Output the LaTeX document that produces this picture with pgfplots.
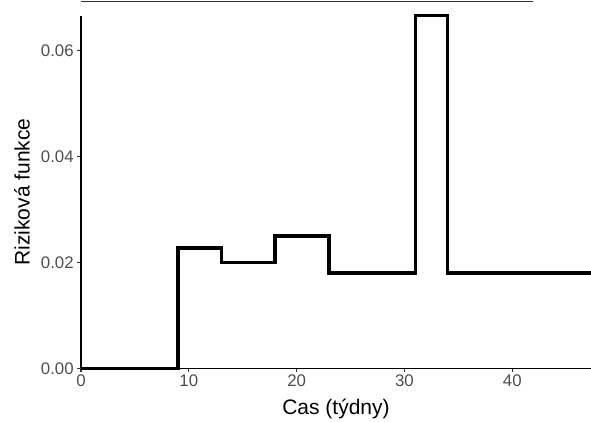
\documentclass[border=0pt]{standalone}
\usepackage{fontspec}
\setmainfont{Liberation Sans}
\usepackage{pgfplots}
\pgfplotsset{compat=1.18}
\definecolor{gray30}{HTML}{4D4D4D}
\definecolor{gray20}{HTML}{333333}

\begin{document}
\begin{tikzpicture}[x=1pt,y=1pt]
% fixed canvas around the panel
\path[use as bounding box] (-81,-52.7) rectangle (510,368.3);
% rule above the panel
\draw[gray20, line width=0.8pt] (0,366.8) -- (452,366.8);
\begin{axis}[
  at={(0pt,0pt)}, anchor=south west,
  scale only axis, width=510pt, height=352.6pt,
  xmin=0, xmax=47.3, ymin=0, ymax=0.0666,
  axis x line=bottom, axis y line=left,
  axis line style={-, black, line width=1.1pt},
  xtick={0,10,20,30,40}, xticklabels={0,10,20,30,40},
  ytick={0,0.02,0.04,0.06}, yticklabels={0.00,0.02,0.04,0.06},
  scaled y ticks=false, scaled x ticks=false,
  /pgf/number format/assume math mode=true,
  tick align=outside, major tick length=3.8pt,
  tick style={gray20, line width=1.1pt},
  ticklabel style={font=\fontsize{16.8}{19}\selectfont, text=gray30},
  xticklabel style={yshift=1pt},
  every axis x label/.style={at={(axis description cs:0.5,-0.116)}, anchor=center},
  every axis y label/.style={at={(axis description cs:-0.1157,0.5)}, rotate=90, anchor=center},
  label style={font=\fontsize{21}{24}\selectfont, text=black},
  xlabel={Cas (týdny)}, ylabel={Riziková funkce},
  clip=false,
]
\addplot[const plot, black, line width=3.2pt] coordinates {
  (0,0) (9,0.02273) (13,0.0200) (18,0.0250) (23,0.0180)
  (31,0.0667) (34,0.0180) (47.3,0.0180)
};
\end{axis}
\end{tikzpicture}
\end{document}
